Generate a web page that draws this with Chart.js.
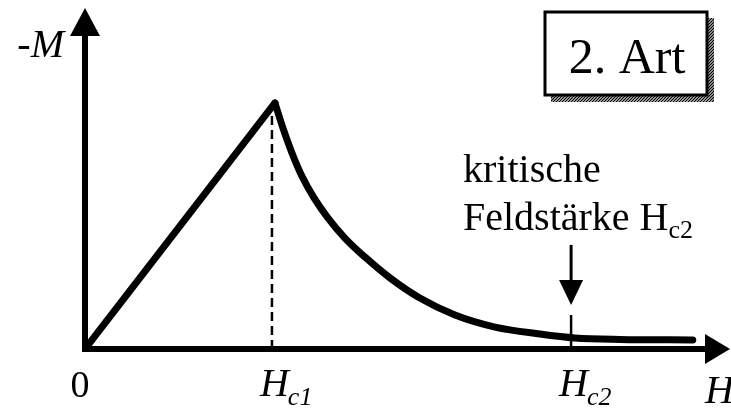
<!DOCTYPE html>
<html>
<head>
<meta charset="utf-8">
<script src="https://cdn.jsdelivr.net/npm/chart.js@4.4.0/dist/chart.umd.min.js"></script>
<style>
  body { margin: 0; background: #fff; }
  #wrap { width: 731px; height: 412px; }
</style>
</head>
<body>
<div id="wrap"><canvas id="magChart" width="731" height="412"></canvas></div>
<script>
// field H (in units of Hc1) and magnetisation -M (peak = 1)
const riseH = [0, 1.016];
const riseM = [0, 1.0];
const decayH = [1.016, 1.059, 1.107, 1.160, 1.225, 1.299, 1.390, 1.497, 1.631, 1.791, 1.979, 2.193, 2.433, 2.620, 2.861, 3.251];
const decayM = [1.0, 0.898, 0.797, 0.703, 0.614, 0.533, 0.451, 0.374, 0.289, 0.207, 0.138, 0.089, 0.061, 0.045, 0.039, 0.037];
const hc1 = 1.0;
const hc2 = 2.6;
const hc1LineTop = 0.97;
const hc2LineTop = 0.138;
const arrowFrom = 0.423;   // "kritische Feldstaerke" arrow
const arrowTo = 0.179;
const xTickValues = [0, hc1, hc2];
const xTickLabels = [['0', ''], ['H', 'c1'], ['H', 'c2']];
const xMax = 3.45;
const yMax = 1.386;

const serif = '"Liberation Serif", "DejaVu Serif", serif';

function pts(xs, ys) {
  return xs.map((x, i) => ({ x: x, y: ys[i] }));
}

// axes with arrow heads, tick labels and the text bits
const sketchPlugin = {
  id: 'sketch',
  beforeDatasetsDraw(chart) {
    const ctx = chart.ctx;
    const xs = chart.scales.x, ys = chart.scales.y;
    const x0 = xs.getPixelForValue(0), y0 = ys.getPixelForValue(0);
    const top = ys.getPixelForValue(yMax), right = xs.getPixelForValue(xMax);
    ctx.save();
    ctx.strokeStyle = '#000';
    ctx.fillStyle = '#000';
    ctx.lineWidth = 6;
    ctx.beginPath();
    ctx.moveTo(x0, y0 + 3);
    ctx.lineTo(x0, top + 26);
    ctx.moveTo(x0 - 3, y0);
    ctx.lineTo(right - 24, y0);
    ctx.stroke();
    // arrow heads
    ctx.beginPath();
    ctx.moveTo(x0, top);
    ctx.lineTo(x0 - 15, top + 28);
    ctx.lineTo(x0 + 15, top + 28);
    ctx.closePath();
    ctx.fill();
    ctx.beginPath();
    ctx.moveTo(right, y0);
    ctx.lineTo(right - 25, y0 - 15);
    ctx.lineTo(right - 25, y0 + 15);
    ctx.closePath();
    ctx.fill();
    ctx.restore();
  },
  afterDatasetsDraw(chart) {
    const ctx = chart.ctx;
    const xs = chart.scales.x, ys = chart.scales.y;
    ctx.save();
    ctx.fillStyle = '#000';
    ctx.strokeStyle = '#000';
    ctx.textBaseline = 'alphabetic';

    // tick labels under the axis
    xTickValues.forEach((v, i) => {
      const px = xs.getPixelForValue(v);
      const [main, sub] = xTickLabels[i];
      ctx.font = 'italic 40px ' + serif;
      if (!sub) {
        ctx.font = '38px ' + serif;
        ctx.textAlign = 'center';
        ctx.fillText(main, px - 5, 397);
        return;
      }
      ctx.textAlign = 'left';
      ctx.fillText(main, px - 12, 396);
      const w = ctx.measureText(main).width;
      ctx.font = 'italic 26px ' + serif;
      ctx.fillText(sub, px - 12 + w - 1, 405);
    });
    ctx.textAlign = 'left';
    ctx.font = 'italic 40px ' + serif;
    ctx.fillText('H', 705, 403);

    // y axis name
    ctx.textAlign = 'right';
    ctx.fillText('-M', 64, 57);

    // arrow to Hc2
    const ax = xs.getPixelForValue(hc2);
    const ay1 = ys.getPixelForValue(arrowFrom), ay2 = ys.getPixelForValue(arrowTo);
    ctx.lineWidth = 3;
    ctx.beginPath();
    ctx.moveTo(ax, ay1);
    ctx.lineTo(ax, ay2 - 22);
    ctx.stroke();
    ctx.beginPath();
    ctx.moveTo(ax, ay2);
    ctx.lineTo(ax - 12, ay2 - 25);
    ctx.lineTo(ax + 12, ay2 - 25);
    ctx.closePath();
    ctx.fill();

    // annotation text
    ctx.textAlign = 'left';
    ctx.font = '40px ' + serif;
    ctx.fillText('kritische', 463, 182);
    ctx.fillText('Feldstärke H', 463, 230);
    const fw = ctx.measureText('Feldstärke H').width;
    ctx.font = '26px ' + serif;
    ctx.fillText('c2', 463 + fw, 238);

    // "2. Art" box with hatched shadow
    const bx = 545, by = 12, bw = 162, bh = 83;
    ctx.save();
    ctx.beginPath();
    ctx.rect(bx + bw, by + 6, 7, bh + 1);
    ctx.rect(bx + 6, by + bh, bw + 1, 7);
    ctx.clip();
    ctx.lineWidth = 1.3;
    ctx.beginPath();
    for (let k = bx - 20; k < bx + bw + 20; k += 3) {
      ctx.moveTo(k, by + bh + 8);
      ctx.lineTo(k + 100, by + bh - 92);
    }
    ctx.stroke();
    ctx.restore();
    ctx.fillStyle = '#fff';
    ctx.fillRect(bx, by, bw, bh);
    ctx.lineWidth = 3;
    ctx.strokeRect(bx, by, bw, bh);
    ctx.fillStyle = '#000';
    ctx.font = '50px ' + serif;
    ctx.textAlign = 'center';
    ctx.fillText('2. Art', bx + bw / 2 + 1, 73);
    ctx.restore();
  }
};

const ctx = document.getElementById('magChart').getContext('2d');
const magChart = new Chart(ctx, {
  type: 'line',
  data: {
    datasets: [
      {
        label: 'rise',
        data: pts(riseH, riseM),
        borderColor: '#000',
        borderWidth: 7,
        tension: 0,
        pointRadius: 0,
        borderCapStyle: 'round',
        borderJoinStyle: 'round'
      },
      {
        label: 'decay',
        data: pts(decayH, decayM),
        borderColor: '#000',
        borderWidth: 7,
        cubicInterpolationMode: 'monotone',
        pointRadius: 0,
        borderCapStyle: 'round',
        borderJoinStyle: 'round'
      },
      {
        label: 'Hc1',
        data: pts([hc1, hc1], [0, hc1LineTop]),
        borderColor: '#000',
        borderWidth: 2.5,
        borderDash: [9, 5],
        pointRadius: 0
      },
      {
        label: 'Hc2',
        data: pts([hc2, hc2], [0, hc2LineTop]),
        borderColor: '#000',
        borderWidth: 2.5,
        pointRadius: 0
      }
    ]
  },
  options: {
    responsive: false,
    animation: false,
    layout: { padding: { left: 85, right: 1, top: 8, bottom: 63 } },
    plugins: { legend: { display: false }, tooltip: { enabled: false } },
    scales: {
      x: { type: 'linear', min: 0, max: xMax, display: false },
      y: { type: 'linear', min: 0, max: yMax, display: false }
    }
  },
  plugins: [sketchPlugin]
});
</script>
</body>
</html>
